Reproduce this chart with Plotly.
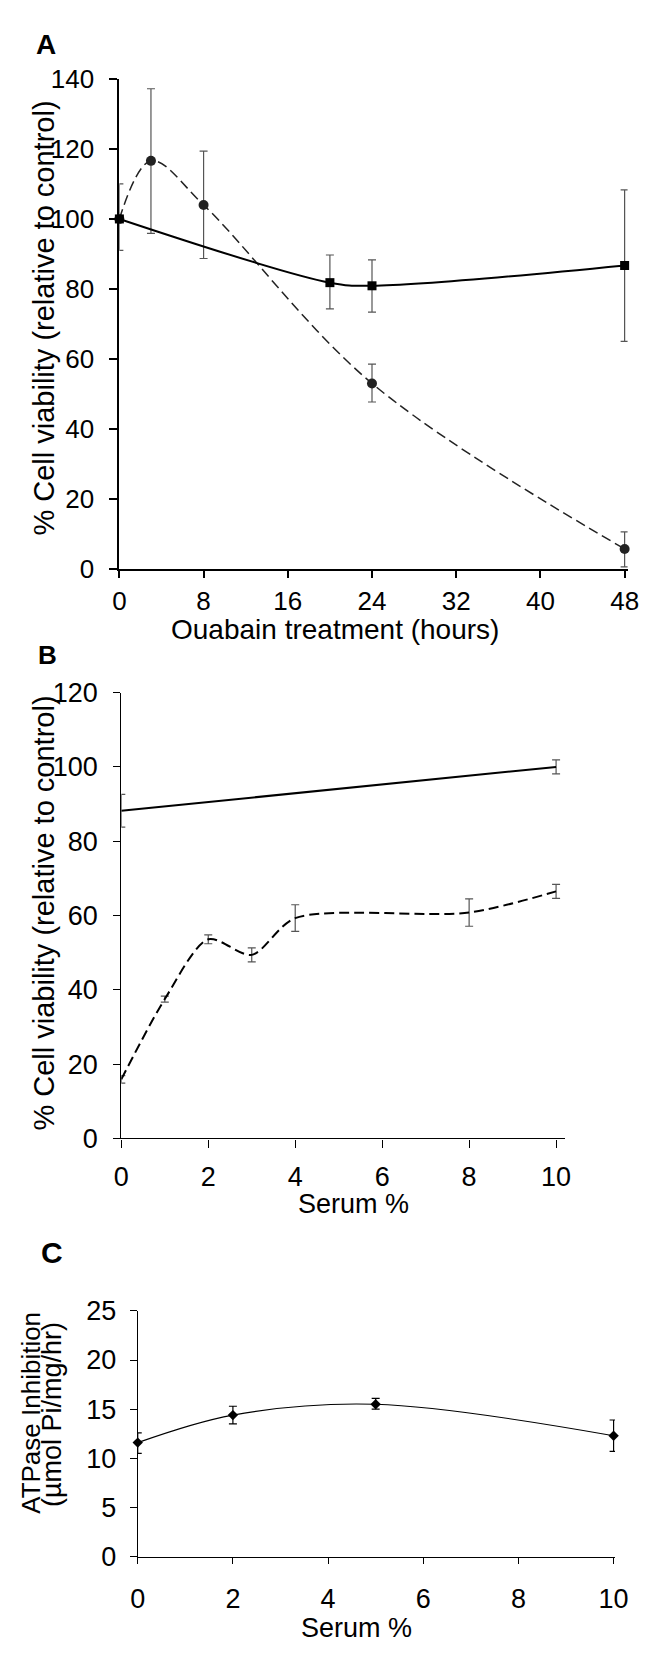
import plotly.graph_objects as go

W, H = 650, 1653

# ---------- Data ----------
# Panel A: cell viability vs ouabain treatment time
a_hours_sq = [0, 20, 24, 48]
a_sq = [100, 81.8, 80.9, 86.7]
a_sq_err_plus = [10, 7.9, 7.4, 21.6]
a_sq_err_minus = [9, 7.5, 7.5, 21.7]
a_hours_ci = [0, 3, 8, 24, 48]
a_ci = [100, 116.6, 104.0, 53.0, 5.7]
a_ci_err_plus = [0, 20.6, 15.4, 5.5, 4.9]
a_ci_err_minus = [0, 20.7, 15.3, 5.3, 5.1]
a_xticks = [0, 8, 16, 24, 32, 40, 48]
a_yticks = [0, 20, 40, 60, 80, 100, 120, 140]

# Panel B: cell viability vs serum %
b_serum_solid = [0, 10]
b_solid = [88.2, 100]
b_solid_err = [4.4, 1.9]
b_serum_dash = [0, 1, 2, 3, 4, 8, 10]
b_dash = [15.9, 37.5, 53.6, 49.4, 59.3, 60.8, 66.5]
b_dash_err = [1.0, 0.8, 1.2, 1.9, 3.6, 3.7, 1.9]
b_xticks = [0, 2, 4, 6, 8, 10]
b_yticks = [0, 20, 40, 60, 80, 100, 120]

# Panel C: ATPase inhibition vs serum %
c_serum = [0, 2, 5, 10]
c_val = [11.6, 14.4, 15.5, 12.3]
c_err_plus = [1.0, 0.9, 0.6, 1.6]
c_err_minus = [1.1, 0.9, 0.5, 1.6]
c_xticks = [0, 2, 4, 6, 8, 10]
c_yticks = [0, 5, 10, 15, 20, 25]

FONT = "Liberation Sans, Arial, sans-serif"
ERRC = "#555555"


def px_x(p):
    return p / W


def px_y(p):
    return 1 - p / H


fig = go.Figure()

# ---------- Panel A ----------
fig.add_trace(go.Scatter(
    x=a_hours_ci, y=a_ci, mode="lines+markers", xaxis="x", yaxis="y",
    line=dict(color="#222222", width=1.5, dash="10px,5px", shape="spline"),
    marker=dict(symbol="circle", size=10, color="#222222"),
    error_y=dict(type="data", array=a_ci_err_plus, arrayminus=a_ci_err_minus,
                 color=ERRC, thickness=1.2, width=4),
    cliponaxis=False, showlegend=False))
fig.add_trace(go.Scatter(
    x=a_hours_sq, y=a_sq, mode="lines+markers", xaxis="x", yaxis="y",
    line=dict(color="black", width=2, shape="spline"),
    marker=dict(symbol="square", size=9, color="black"),
    error_y=dict(type="data", array=a_sq_err_plus, arrayminus=a_sq_err_minus,
                 color=ERRC, thickness=1.2, width=4),
    cliponaxis=False, showlegend=False))

# ---------- Panel B ----------
fig.add_trace(go.Scatter(
    x=b_serum_solid, y=b_solid, mode="lines", xaxis="x2", yaxis="y2",
    line=dict(color="black", width=2),
    error_y=dict(type="data", array=b_solid_err, color=ERRC, thickness=1.2, width=4),
    cliponaxis=False, showlegend=False))
fig.add_trace(go.Scatter(
    x=b_serum_dash, y=b_dash, mode="lines", xaxis="x2", yaxis="y2",
    line=dict(color="black", width=2, dash="10px,5px", shape="spline", smoothing=0.8),
    error_y=dict(type="data", array=b_dash_err, color=ERRC, thickness=1.2, width=4),
    cliponaxis=False, showlegend=False))

# ---------- Panel C ----------
fig.add_trace(go.Scatter(
    x=c_serum, y=c_val, mode="lines+markers", xaxis="x3", yaxis="y3",
    line=dict(color="black", width=1.1, shape="spline"),
    marker=dict(symbol="diamond", size=8, color="black"),
    error_y=dict(type="data", array=c_err_plus, arrayminus=c_err_minus,
                 color="black", thickness=1.2, width=4),
    cliponaxis=False, showlegend=False))


def axis(domain, rng, ticks, lw, size, standoff, ticklen, **kw):
    d = dict(domain=domain, range=rng, tickvals=ticks, ticktext=[str(t) for t in ticks],
             showline=True, linecolor="black", linewidth=lw, ticks="outside",
             ticklen=ticklen, tickwidth=max(1, lw * 0.8), tickcolor="black", showgrid=False,
             zeroline=False, tickfont=dict(family=FONT, size=size, color="black"),
             ticklabelstandoff=standoff, fixedrange=True)
    d.update(kw)
    return d


fig.update_layout(
    width=W, height=H, margin=dict(l=0, r=0, t=0, b=0),
    paper_bgcolor="white", plot_bgcolor="white",
    xaxis=axis([px_x(107), px_x(633)], [0, 48.28], a_xticks, 2, 26, 1, 7, anchor="y"),
    yaxis=axis([px_y(556), px_y(57)], [0, 140], a_yticks, 2, 26, 10, 8, anchor="x"),
    xaxis2=axis([px_x(109), px_x(568)], [0, 10.2], b_xticks, 1.4, 27, 6, 8, anchor="y2"),
    yaxis2=axis([px_y(1136), px_y(682)], [0, 120], b_yticks, 1.4, 27, 10, 7, anchor="x2"),
    xaxis3=axis([px_x(126), px_x(620)], [0, 10.03], c_xticks, 1.2, 27, 12, 6, anchor="y3"),
    yaxis3=axis([px_y(1562), px_y(1311.7)], [0, 25], c_yticks, 1.2, 27, 8, 7, anchor="x3"),
)


def ann(text, x, y, size, angle=0):
    fig.add_annotation(text=text, x=px_x(x), y=px_y(y), xref="paper", yref="paper",
                       showarrow=False, textangle=angle,
                       font=dict(family=FONT, size=size, color="black"),
                       xanchor="center", yanchor="middle")


ann("<b>A</b>", 31, 22, 28)
ann("<b>B</b>", 33, 644, 26)
ann("<b>C</b>", 37, 1252, 30)
ann("% Cell viability (relative to control)", 28, 301, 29, -90)
ann("Ouabain treatment (hours)", 330, 618, 28)
ann("% Cell viability (relative to control)", 28, 907, 29, -90)
ann("Serum %", 349, 1203, 27)
ann("ATPase Inhibition", 16, 1415, 26, -90)
ann("(µmol Pi/mg/hr)", 38, 1417, 27, -90)
ann("Serum %", 352, 1635, 27)

fig.write_html("out.html")
